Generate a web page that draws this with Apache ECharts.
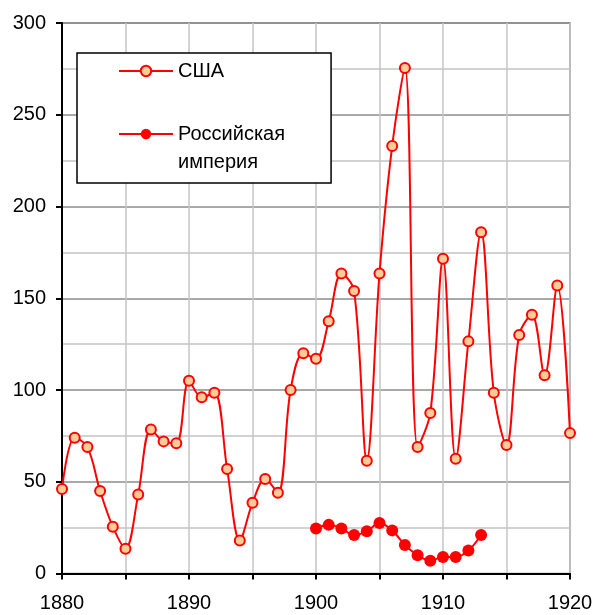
<!DOCTYPE html>
<html>
<head>
<meta charset="utf-8">
<script src="https://cdn.jsdelivr.net/npm/echarts@6/dist/echarts.min.js"></script>
<style>
html,body{margin:0;padding:0;background:#fff;}
#chart{width:597px;height:615px;}
</style>
</head>
<body>
<div id="chart"></div>
<script>
var usaName = 'США';
var rusName = 'Российская империя';
var usaYears = [1880,1881,1882,1883,1884,1885,1886,1887,1888,1889,
                1890,1891,1892,1893,1894,1895,1896,1897,1898,1899,
                1900,1901,1902,1903,1904,1905,1906,1907,1908,1909,
                1910,1911,1912,1913,1914,1915,1916,1917,1918,1919,1920];
var usaValues = [46,74,69,45,25.5,13.5,43,78.5,72,71,
                 105,96,98.5,57,18,38.5,51.5,44,100,120,
                 117,137.5,163.5,154,61.5,163.5,233,275.5,69,87.5,
                 171.5,62.5,126.5,186,98.5,70,130,141,108,157,76.5];
var rusYears = [1900,1901,1902,1903,1904,1905,1906,1907,1908,1909,1910,1911,1912,1913];
var rusValues = [24.5,26.5,24.5,21,23,27.5,23.5,15.5,10,7,9,9,12.5,21];
var xTickLabels = [1880,1890,1900,1910,1920];

function pairs(xs, ys){ return xs.map(function(x,i){ return [x, ys[i]]; }); }

var FONT = 'Liberation Sans, Arial, sans-serif';
var chart = echarts.init(document.getElementById('chart'), null, {renderer:'canvas'});
chart.setOption({
  animation: false,
  backgroundColor: '#ffffff',
  textStyle: {fontFamily: FONT},
  grid: {left: 62, right: 27, top: 23, bottom: 41.5, show: true, borderColor: '#888888', borderWidth: 1.5, containLabel: false},
  xAxis: {
    type: 'value', min: 1880, max: 1920, interval: 5,
    axisLine: {show: true, onZero: false, lineStyle: {color: '#000', width: 2}},
    axisTick: {show: true, length: 6, lineStyle: {color: '#000', width: 2}},
    axisLabel: {fontSize: 20, color: '#000', fontFamily: FONT, margin: 20,
      formatter: function(v){ return xTickLabels.indexOf(v) >= 0 ? String(v) : ''; }},
    splitLine: {show: true, lineStyle: {color: '#c4c4c4', width: 1.5}}
  },
  yAxis: {
    type: 'value', min: 0, max: 300, interval: 50,
    axisLine: {show: true, lineStyle: {color: '#000', width: 2}},
    axisTick: {show: true, length: 6, lineStyle: {color: '#000', width: 2}},
    axisLabel: {fontSize: 20, color: '#000', fontFamily: FONT, margin: 16},
    splitLine: {show: true, lineStyle: {color: '#8c8c8c', width: 1.5}},
    minorTick: {show: false, splitNumber: 2},
    minorSplitLine: {show: true, lineStyle: {color: '#c4c4c4', width: 1.5}}
  },
  legend: {
    orient: 'vertical', left: 77, top: 53,
    padding: [8, 46, 11, 41], itemGap: 15,
    itemWidth: 54, itemHeight: 13,
    backgroundColor: '#fff', borderColor: '#000', borderWidth: 1.5,
    textStyle: {
      fontSize: 20, color: '#000', fontFamily: FONT,
      rich: {
        t: {fontSize: 20, color: '#000', fontFamily: FONT, lineHeight: 28},
        h: {fontSize: 20, color: 'rgba(0,0,0,0)', fontFamily: FONT, lineHeight: 28}
      }
    },
    formatter: function(n){
      var parts = n.split(' ');
      if (parts.length > 1) {
        return '{h|.}\n' + parts.map(function(p){ return '{t|' + p + '}'; }).join('\n');
      }
      return n;
    },
    data: [usaName, rusName]
  },
  series: [
    {
      name: usaName, type: 'line', data: pairs(usaYears, usaValues),
      smooth: 0.35, symbol: 'circle', symbolSize: 10,
      lineStyle: {color: '#ff0000', width: 2},
      itemStyle: {color: '#ffcc99', borderColor: '#ff0000', borderWidth: 2},
      z: 3
    },
    {
      name: rusName, type: 'line', data: pairs(rusYears, rusValues),
      smooth: 0.35, symbol: 'circle', symbolSize: 12,
      lineStyle: {color: '#ff0000', width: 2},
      itemStyle: {color: '#ff0000', borderColor: '#ff0000', borderWidth: 0},
      z: 3
    }
  ]
});
</script>
</body>
</html>
